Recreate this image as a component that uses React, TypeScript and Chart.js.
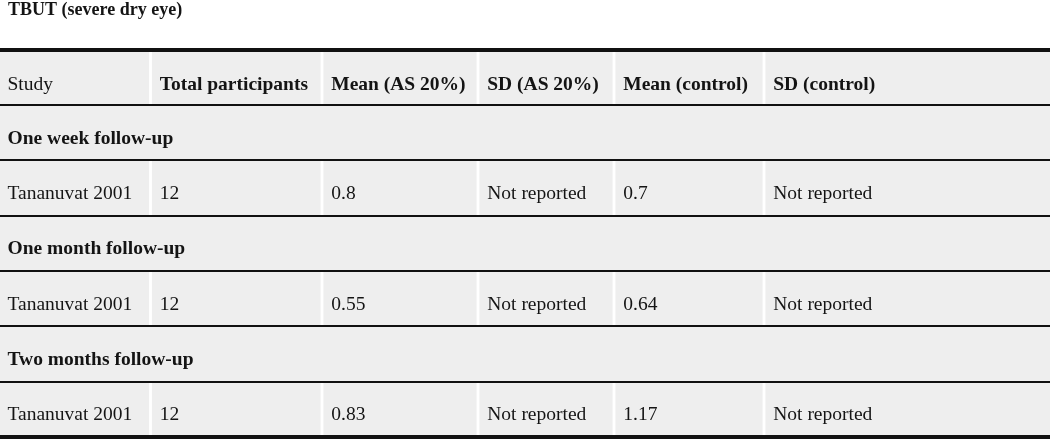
import React, { useEffect, useRef } from "react";
import { Chart, registerables } from "chart.js";

Chart.register(...registerables);

// ---- data ----
const tableTitle = "TBUT (severe dry eye)";
const columnHeaders = [
  "Study",
  "Total participants",
  "Mean (AS 20%)",
  "SD (AS 20%)",
  "Mean (control)",
  "SD (control)",
];
const followUps = ["One week follow-up", "One month follow-up", "Two months follow-up"];
const studies = ["Tananuvat 2001", "Tananuvat 2001", "Tananuvat 2001"];
const totalParticipants = [12, 12, 12];
const meanAS20 = [0.8, 0.55, 0.83];
const sdAS20 = ["Not reported", "Not reported", "Not reported"];
const meanControl = [0.7, 0.64, 1.17];
const sdControl = ["Not reported", "Not reported", "Not reported"];

// ---- layout (positions/sizes) ----
const COL_EDGES = [0, 150.5, 322, 478, 614, 764, 1050];
const GAP = 1.75;
const FONT = '"Liberation Serif", "Times New Roman", serif';

type Row = { kind: "header" | "section" | "data"; cells: string[] };

const rows: Row[] = [{ kind: "header", cells: columnHeaders }];
followUps.forEach((f, i) => {
  rows.push({ kind: "section", cells: [f] });
  rows.push({
    kind: "data",
    cells: [
      studies[i],
      String(totalParticipants[i]),
      String(meanAS20[i]),
      sdAS20[i],
      String(meanControl[i]),
      sdControl[i],
    ],
  });
});

const rowLabels = rows.map((_, i) => "row" + i);

function cellRange(kind: string, c: number): [number, number] | null {
  const last = COL_EDGES.length - 1;
  if (kind === "section") return c === 0 ? [COL_EDGES[0], COL_EDGES[last]] : null;
  const start = c === 0 ? COL_EDGES[0] : COL_EDGES[c] + GAP;
  const end = c === columnHeaders.length - 1 ? COL_EDGES[last] : COL_EDGES[c + 1] - GAP;
  return [start, end];
}

const textPlugin = {
  id: "tableText",
  afterDraw(chart: any) {
    const { ctx } = chart;
    const x = chart.scales.x;
    const y = chart.scales.y;
    ctx.save();
    ctx.fillStyle = "#141414";
    ctx.textAlign = "left";
    ctx.textBaseline = "alphabetic";
    ctx.font = `bold 18px ${FONT}`;
    ctx.fillText(tableTitle, 8, 15);
    rows.forEach((row, r) => {
      const yPix = y.getPixelForValue(r) + (row.kind === "header" ? 12.5 : 11);
      row.cells.forEach((text, c) => {
        const bold = row.kind === "section" || (row.kind === "header" && c > 0);
        ctx.font = `${bold ? "bold " : ""}19.5px ${FONT}`;
        const xPix =
          c === 0 ? x.getPixelForValue(COL_EDGES[0]) + 7.5 : x.getPixelForValue(COL_EDGES[c]) + 9.25;
        ctx.fillText(text, xPix, yPix);
      });
    });
    ctx.restore();
  },
};

export default function App() {
  const canvasRef = useRef<HTMLCanvasElement | null>(null);

  useEffect(() => {
    document.body.style.margin = "0";
    const canvas = canvasRef.current;
    if (!canvas) return;
    const datasets = columnHeaders.map((h, c) => ({
      label: h,
      data: rows.map((row) => cellRange(row.kind, c)) as any,
      backgroundColor: "#eeeeee",
      borderWidth: 0,
      grouped: false,
      barPercentage: 1,
      categoryPercentage: 1,
    }));
    const chart = new Chart(canvas, {
      type: "bar",
      data: { labels: rowLabels, datasets },
      options: {
        indexAxis: "y",
        animation: false,
        responsive: false,
        devicePixelRatio: 1,
        layout: { padding: { top: 49.5, bottom: 2, left: 0, right: 0 } },
        plugins: {
          legend: { display: false },
          title: { display: false },
          tooltip: { enabled: false },
        },
        scales: {
          x: { type: "linear", min: 0, max: 1050, display: false },
          y: {
            type: "category",
            z: 1,
            offset: true,
            grid: {
              z: 1,
              offset: true,
              drawTicks: false,
              color: "#111111",
              lineWidth: (ctx: any) => (ctx.type === "scale" || ctx.index === 0 ? 4 : 2),
            },
            ticks: { display: false },
            border: { display: false },
          },
        },
      } as any,
      plugins: [textPlugin],
    });
    return () => chart.destroy();
  }, []);

  return (
    <div style={{ width: 1050, height: 439, position: "relative" }}>
      <canvas ref={canvasRef} width={1050} height={439} style={{ display: "block" }} />
    </div>
  );
}
